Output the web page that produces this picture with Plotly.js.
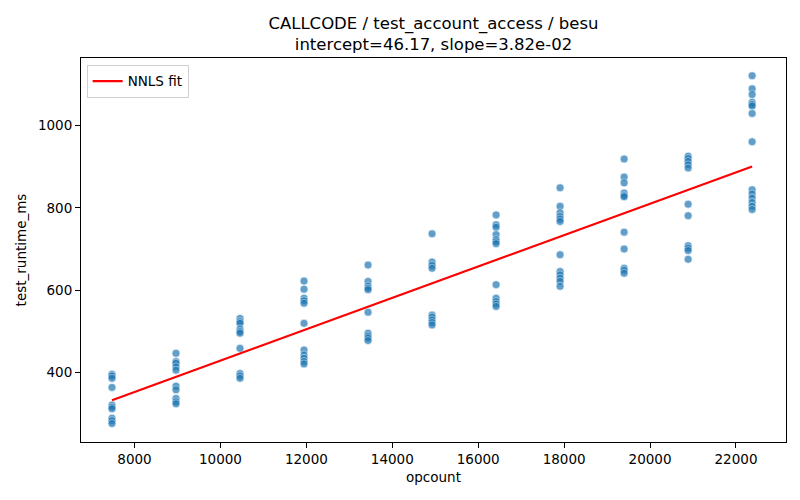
<!DOCTYPE html>
<html>
<head>
<meta charset="utf-8">
<script src="https://cdn.plot.ly/plotly-3.0.1.min.js"></script>
<style>
  html, body { margin: 0; padding: 0; background: #fff; }
  #chart { width: 800px; height: 500px; }
</style>
</head>
<body>
<div id="chart"></div>
<script>
// opcount levels (one column of runs per level)
const opcounts = [7476, 8966, 10456, 11946, 13436, 14926, 16416, 17906, 19396, 20886, 22376];

// measured runtimes (ms) for each opcount level
const runtimes = [
    [395, 391, 385, 363, 320, 315, 311, 288, 282, 275],
    [446, 426, 422, 413, 405, 366, 357, 336, 328, 323],
    [531, 523, 519, 505, 499, 495, 458, 397, 391, 385],
    [622, 602, 580, 574, 568, 519, 454, 442, 434, 426, 420],
    [661, 621, 610, 605, 601, 546, 495, 488, 483, 477],
    [737, 668, 660, 653, 539, 534, 527, 521, 515],
    [783, 759, 753, 735, 723, 718, 713, 613, 580, 572, 566, 560],
    [849, 804, 788, 779, 773, 767, 686, 645, 637, 629, 621, 609],
    [919, 875, 861, 836, 830, 827, 741, 700, 653, 648, 641],
    [926, 920, 913, 905, 897, 809, 781, 708, 702, 696, 675],
    [1122, 1090, 1076, 1057, 1052, 1048, 1030, 961, 844, 834, 824, 813, 804, 796],
];

// NNLS fit parameters (from the title)
const intercept = 46.17;
const slope = 3.82e-2;

const xs = [];
const ys = [];
runtimes.forEach((col, i) => {
    col.forEach(v => {
        xs.push(opcounts[i]);
        ys.push(v);
    });
});

const xFit = [opcounts[0], opcounts[opcounts.length - 1]];
const yFit = xFit.map(x => intercept + slope * x);

const font = 'DejaVu Sans, sans-serif';

const scatter = {
    x: xs,
    y: ys,
    type: 'scatter',
    mode: 'markers',
    showlegend: false,
    marker: {
        color: '#1f77b4',
        size: 8,
        opacity: 0.7,
        line: { color: '#ffffff', width: 0.6 },
    },
    hoverinfo: 'skip',
};

const fit = {
    x: xFit,
    y: yFit,
    type: 'scatter',
    mode: 'lines',
    name: 'NNLS fit',
    line: { color: '#ff0000', width: 2.2 },
};

const axisCommon = {
    showgrid: false,
    zeroline: false,
    showline: true,
    mirror: true,
    linecolor: '#000',
    linewidth: 1,
    ticks: 'outside',
    ticklen: 5,
    tickwidth: 1,
    tickcolor: '#000',
    tickformat: 'd',
    tickfont: { family: font, size: 13.5, color: '#000' },
};

const layout = {
    width: 800,
    height: 500,
    margin: { l: 81, r: 14, t: 58, b: 58 },
    paper_bgcolor: '#fff',
    plot_bgcolor: '#fff',
    font: { family: font, color: '#000' },
    title: {
        text: 'CALLCODE / test_account_access / besu<br>intercept=46.17, slope=3.82e-02',
        font: { family: font, size: 16.5, color: '#000' },
        x: 0.5,
        xref: 'paper',
        y: 0.943,
        yref: 'container',
        yanchor: 'top',
    },
    xaxis: Object.assign({}, axisCommon, {
        range: [6755, 23164],
        tickmode: 'linear',
        tick0: 8000,
        dtick: 2000,
        title: { text: 'opcount', font: { family: font, size: 13.5 }, standoff: 6 },
    }),
    yaxis: Object.assign({}, axisCommon, {
        range: [230, 1165],
        tickmode: 'linear',
        tick0: 0,
        dtick: 200,
        title: { text: 'test_runtime_ms', font: { family: font, size: 13.5 }, standoff: 8 },
    }),
    legend: {
        x: 0.008,
        y: 0.982,
        xanchor: 'left',
        yanchor: 'top',
        bgcolor: '#fff',
        bordercolor: '#d0d0d0',
        borderwidth: 1,
        font: { family: font, size: 13.5 },
    },
    showlegend: true,
};

Plotly.newPlot('chart', [scatter, fit], layout, { displayModeBar: false, staticPlot: true });
</script>
</body>
</html>
